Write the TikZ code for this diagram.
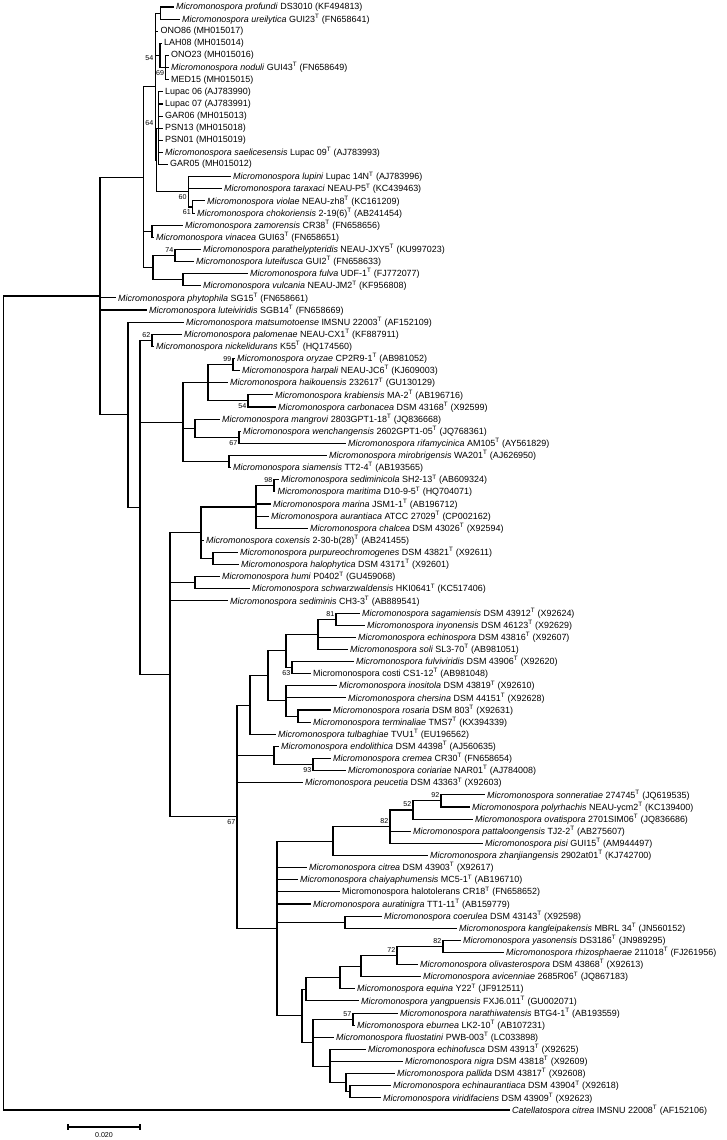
\documentclass[tikz,border=0pt]{standalone}
\usepackage{fontspec}
\setmainfont{Liberation Sans}
\usetikzlibrary{calc}
\newcommand\supT{\textsuperscript{T}}
\newcommand\mm[1]{\textit{Micromonospora #1}}
\newcommand\lf[4]{\coordinate (#1) at (#2,{7+(#3-1)*12.121});
  \node[lbl] (#1t) at ([xshift=3pt]#1) {#4};}
\newcommand\nd[4]{\coordinate (#1tmp) at ($(#3)!0.5!(#4)$);
  \coordinate (#1x) at (#2,0); \coordinate (#1) at (#1x |- #1tmp);}
\newcommand\br[2]{\draw[br] (#1 |- #2) -- (#2);}
\newcommand\vt[3]{\draw[br] (#1 |- #2) -- (#1 |- #3);}
\newcommand\bsu[2]{\node[bs,anchor=east] (#1bs) at ([xshift=-1.5pt,yshift=5.5pt]#1) {#2};}
\newcommand\bsd[2]{\node[bs,anchor=east] (#1bs) at ([xshift=-1.5pt,yshift=-5.5pt]#1) {#2};}
\begin{document}
\begin{tikzpicture}[x=1pt,y=-1pt,
  lbl/.style={anchor=west,inner sep=0pt,font=\fontsize{8.95}{10}\selectfont},
  bs/.style={inner sep=0pt,font=\fontsize{7.1}{8}\selectfont},
  br/.style={line width=1.1pt,line cap=rect}]
\useasboundingbox (0,0) rectangle (726,1140);
% leaves
\lf{l1}{173}{1}{\mm{profundi} DS3010 (KF494813)}
\lf{l2}{179}{2}{\mm{ureilytica} GUI23\supT{} (FN658641)}
\lf{l3}{157.5}{3}{ONO86 (MH015017)}
\lf{l4}{161}{4}{LAH08 (MH015014)}
\lf{l5}{168}{5}{ONO23 (MH015016)}
\lf{l6}{168}{6}{\mm{noduli} GUI43\supT{} (FN658649)}
\lf{l7}{168}{7}{MED15 (MH015015)}
\lf{l8}{162}{8}{Lupac 06 (AJ783990)}
\lf{l9}{162}{9}{Lupac 07 (AJ783991)}
\lf{l10}{162}{10}{GAR06 (MH015013)}
\lf{l11}{162}{11}{PSN13 (MH015018)}
\lf{l12}{162}{12}{PSN01 (MH015019)}
\lf{l13}{162}{13}{\mm{saelicesensis} Lupac 09\supT{} (AJ783993)}
\lf{l14}{167}{14}{GAR05 (MH015012)}
\lf{l15}{230}{15}{\mm{lupini} Lupac 14N\supT{} (AJ783996)}
\lf{l16}{221}{16}{\mm{taraxaci} NEAU-P5\supT{} (KC439463)}
\lf{l17}{204}{17}{\mm{violae} NEAU-zh8\supT{} (KC161209)}
\lf{l18}{194}{18}{\mm{chokoriensis} 2-19(6)\supT{} (AB241454)}
\lf{l19}{182}{19}{\mm{zamorensis} CR38\supT{} (FN658656)}
\lf{l20}{153}{20}{\mm{vinacea} GUI63\supT{} (FN658651)}
\lf{l21}{200}{21}{\mm{parathelypteridis} NEAU-JXY5\supT{} (KU997023)}
\lf{l22}{193}{22}{\mm{luteifusca} GUI2\supT{} (FN658633)}
\lf{l23}{247}{23}{\mm{fulva} UDF-1\supT{} (FJ772077)}
\lf{l24}{200}{24}{\mm{vulcania} NEAU-JM2\supT{} (KF956808)}
\lf{l25}{115}{25}{\mm{phytophila} SG15\supT{} (FN658661)}
\lf{l26}{146}{26}{\mm{luteiviridis} SGB14\supT{} (FN658669)}
\lf{l27}{183}{27}{\mm{matsumotoense} IMSNU 22003\supT{} (AF152109)}
\lf{l28}{181}{28}{\mm{palomenae} NEAU-CX1\supT{} (KF887911)}
\lf{l29}{153}{29}{\mm{nickelidurans} K55\supT{} (HQ174560)}
\lf{l30}{234}{30}{\mm{oryzae} CP2R9-1\supT{} (AB981052)}
\lf{l31}{239}{31}{\mm{harpali} NEAU-JC6\supT{} (KJ609003)}
\lf{l32}{227}{32}{\mm{haikouensis} 232617\supT{} (GU130129)}
\lf{l33}{272}{33}{\mm{krabiensis} MA-2\supT{} (AB196716)}
\lf{l34}{275}{34}{\mm{carbonacea} DSM 43168\supT{} (X92599)}
\lf{l35}{219}{35}{\mm{mangrovi} 2803GPT1-18\supT{} (JQ836668)}
\lf{l36}{240}{36}{\mm{wenchangensis} 2602GPT1-05\supT{} (JQ768361)}
\lf{l37}{345}{37}{\mm{rifamycinica} AM105\supT{} (AY561829)}
\lf{l38}{326}{38}{\mm{mirobrigensis} WA201\supT{} (AJ626950)}
\lf{l39}{230}{39}{\mm{siamensis} TT2-4\supT{} (AB193565)}
\lf{l40}{278}{40}{\mm{sediminicola} SH2-13\supT{} (AB609324)}
\lf{l41}{274.5}{41}{\mm{maritima} D10-9-5\supT{} (HQ704071)}
\lf{l42}{270}{42}{\mm{marina} JSM1-1\supT{} (AB196712)}
\lf{l43}{268}{43}{\mm{aurantiaca} ATCC 27029\supT{} (CP002162)}
\lf{l44}{307}{44}{\mm{chalcea} DSM 43026\supT{} (X92594)}
\lf{l45}{203}{45}{\mm{coxensis} 2-30-b(28)\supT{} (AB241455)}
\lf{l46}{237}{46}{\mm{purpureochromogenes} DSM 43821\supT{} (X92611)}
\lf{l47}{238}{47}{\mm{halophytica} DSM 43171\supT{} (X92601)}
\lf{l48}{219}{48}{\mm{humi} P0402\supT{} (GU459068)}
\lf{l49}{249}{49}{\mm{schwarzwaldensis} HKI0641\supT{} (KC517406)}
\lf{l50}{227}{50}{\mm{sediminis} CH3-3\supT{} (AB889541)}
\lf{l51}{359}{51}{\mm{sagamiensis} DSM 43912\supT{} (X92624)}
\lf{l52}{364}{52}{\mm{inyonensis} DSM 46123\supT{} (X92629)}
\lf{l53}{355}{53}{\mm{echinospora} DSM 43816\supT{} (X92607)}
\lf{l54}{347}{54}{\mm{soli} SL3-70\supT{} (AB981051)}
\lf{l55}{353}{55}{\mm{fulviviridis} DSM 43906\supT{} (X92620)}
\lf{l56}{310}{56}{Micromonospora costi CS1-12\supT{} (AB981048)}
\lf{l57}{336}{57}{\mm{inositola} DSM 43819\supT{} (X92610)}
\lf{l58}{345}{58}{\mm{chersina} DSM 44151\supT{} (X92628)}
\lf{l59}{330}{59}{\mm{rosaria} DSM 803\supT{} (X92631)}
\lf{l60}{310}{60}{\mm{terminaliae} TMS7\supT{} (KX394339)}
\lf{l61}{275}{61}{\mm{tulbaghiae} TVU1\supT{} (EU196562)}
\lf{l62}{278}{62}{\mm{endolithica} DSM 44398\supT{} (AJ560635)}
\lf{l63}{330}{63}{\mm{cremea} CR30\supT{} (FN658654)}
\lf{l64}{345}{64}{\mm{coriariae} NAR01\supT{} (AJ784008)}
\lf{l65}{302}{65}{\mm{peucetia} DSM 43363\supT{} (X92603)}
\lf{l66}{484}{66}{\mm{sonneratiae} 274745\supT{} (JQ619535)}
\lf{l67}{469}{67}{\mm{polyrhachis} NEAU-ycm2\supT{} (KC139400)}
\lf{l68}{472}{68}{\mm{ovatispora} 2701SIM06\supT{} (JQ836686)}
\lf{l69}{410}{69}{\mm{pattaloongensis} TJ2-2\supT{} (AB275607)}
\lf{l70}{482}{70}{\mm{pisi} GUI15\supT{} (AM944497)}
\lf{l71}{427}{71}{\mm{zhanjiangensis} 2902at01\supT{} (KJ742700)}
\lf{l72}{306}{72}{\mm{citrea} DSM 43903\supT{} (X92617)}
\lf{l73}{297}{73}{\mm{chaiyaphumensis} MC5-1\supT{} (AB196710)}
\lf{l74}{339}{74}{Micromonospora halotolerans CR18\supT{} (FN658652)}
\lf{l75}{310}{75}{\mm{auratinigra} TT1-11\supT{} (AB159779)}
\lf{l76}{381}{76}{\mm{coerulea} DSM 43143\supT{} (X92598)}
\lf{l77}{456}{77}{\mm{kangleipakensis} MBRL 34\supT{} (JN560152)}
\lf{l78}{460}{78}{\mm{yasonensis} DS3186\supT{} (JN989295)}
\lf{l79}{503}{79}{\mm{rhizosphaerae} 211018\supT{} (FJ261956)}
\lf{l80}{417}{80}{\mm{olivasterospora} DSM 43868\supT{} (X92613)}
\lf{l81}{420}{81}{\mm{avicenniae} 2685R06\supT{} (JQ867183)}
\lf{l82}{354}{82}{\mm{equina} Y22\supT{} (JF912511)}
\lf{l83}{358}{83}{\mm{yangpuensis} FXJ6.011\supT{} (GU002071)}
\lf{l84}{397}{84}{\mm{narathiwatensis} BTG4-1\supT{} (AB193559)}
\lf{l85}{354}{85}{\mm{eburnea} LK2-10\supT{} (AB107231)}
\lf{l86}{333}{86}{\mm{fluostatini} PWB-003\supT{} (LC033898)}
\lf{l87}{365}{87}{\mm{echinofusca} DSM 43913\supT{} (X92625)}
\lf{l88}{402}{88}{\mm{nigra} DSM 43818\supT{} (X92609)}
\lf{l89}{394}{89}{\mm{pallida} DSM 43817\supT{} (X92608)}
\lf{l90}{390}{90}{\mm{echinaurantiaca} DSM 43904\supT{} (X92618)}
\lf{l91}{380}{91}{\mm{viridifaciens} DSM 43909\supT{} (X92623)}
\lf{l92}{509}{92}{\textit{Catellatospora citrea} IMSNU 22008\supT{} (AF152106)}
% internal nodes
\nd{P1}{160.7}{l1}{l2}
\nd{n69}{165.7}{l5}{l7}
\nd{n162}{160}{l4}{n69}
\nd{n64}{158.5}{l8}{l14}
\nd{n192}{192.5}{l17}{l18}
\nd{n188}{188.3}{l15}{n192}
\nd{C}{156.5}{n64}{n188}
\nd{B}{155.7}{P1}{C}
\nd{n152}{152}{l19}{l20}
\nd{n74}{175}{l21}{l22}
\nd{nfv}{183}{l23}{l24}
\nd{n153}{153}{n74}{nfv}
\nd{A}{143.5}{B}{n153}
\nd{n62}{152}{l28}{l29}
\nd{n99}{233}{l30}{l31}
\nd{nkc}{248}{l33}{l34}
\nd{n208}{208}{n99}{nkc}
\nd{nwr}{239}{l36}{l37}
\nd{n195}{195}{l35}{nwr}
\nd{n229}{229}{l38}{l39}
\nd{N183}{183}{n208}{n229}
\nd{n98}{274}{l40}{l41}
\nd{n256}{256}{n98}{l44}
\nd{n213}{213}{l46}{l47}
\nd{N201}{201}{n256}{n213}
\nd{nhs}{195}{l48}{l49}
\nd{n81}{336}{l51}{l52}
\nd{n318}{318}{n81}{l54}
\nd{n63}{292}{l55}{l56}
\nd{n286}{286}{n318}{n63}
\nd{n298}{298}{l59}{l60}
\nd{n286b}{286}{l57}{n298}
\nd{n268}{268}{n286}{n286b}
\nd{n250}{250}{n268}{l61}
\nd{n93}{313}{l63}{l64}
\nd{n274}{274}{l62}{n93}
\nd{n92}{441}{l66}{l67}
\nd{n52}{413}{n92}{l68}
\nd{n82}{390}{n52}{l70}
\nd{n333}{333}{n82}{l71}
\nd{n345}{345}{l76}{l77}
\nd{n82b}{443}{l78}{l79}
\nd{n72}{397}{n82b}{l80}
\nd{n361}{361}{n72}{l81}
\nd{n340}{340}{n361}{l82}
\nd{n306}{306}{n340}{l83}
\nd{n57}{353}{l84}{l85}
\nd{n350}{350}{l90}{l91}
\nd{n346}{346}{l89}{n350}
\nd{n330}{330}{l87}{n346}
\nd{n313}{313}{n57}{n330}
\nd{n302}{302}{n306}{n313}
\nd{n277}{277}{n333}{n302}
\nd{N237}{237}{n250}{n277}
\nd{N170}{170}{N201}{N237}
\nd{N140}{140}{n62}{N170}
\nd{N128}{128}{l27}{N140}
\nd{N100}{100}{A}{N128}
\nd{R}{3.3}{N100}{l92}
% branches
\vt{P1}{l1}{l2}\br{P1}{l1}\br{P1}{l2}
\vt{n69}{l5}{l7}\br{n69}{l5}\br{n69}{l6}\br{n69}{l7}
\vt{n162}{l4}{n69}\br{n162}{l4}\br{n162}{n69}
\vt{n64}{l8}{l14}\br{n64}{l8}\br{n64}{l9}\br{n64}{l10}\br{n64}{l11}\br{n64}{l12}\br{n64}{l13}\br{n64}{l14}
\vt{n192}{l17}{l18}\br{n192}{l17}\br{n192}{l18}
\vt{n188}{l15}{n192}\br{n188}{l15}\br{n188}{l16}\br{n188}{n192}
\vt{C}{n64}{n188}\br{C}{n64}\br{C}{n188}
\vt{B}{P1}{C}\br{B}{P1}\br{B}{l3}\br{B}{n162}\br{B}{C}
\vt{n152}{l19}{l20}\br{n152}{l19}\br{n152}{l20}
\vt{n74}{l21}{l22}\br{n74}{l21}\br{n74}{l22}
\vt{nfv}{l23}{l24}\br{nfv}{l23}\br{nfv}{l24}
\vt{n153}{n74}{nfv}\br{n153}{n74}\br{n153}{nfv}
\vt{A}{B}{n153}\br{A}{B}\br{A}{n152}\br{A}{n153}
\vt{n62}{l28}{l29}\br{n62}{l28}\br{n62}{l29}
\vt{n99}{l30}{l31}\br{n99}{l30}\br{n99}{l31}
\vt{nkc}{l33}{l34}\br{nkc}{l33}\br{nkc}{l34}
\vt{n208}{n99}{nkc}\br{n208}{n99}\br{n208}{l32}\br{n208}{nkc}
\vt{nwr}{l36}{l37}\br{nwr}{l36}\br{nwr}{l37}
\vt{n195}{l35}{nwr}\br{n195}{l35}\br{n195}{nwr}
\vt{n229}{l38}{l39}\br{n229}{l38}\br{n229}{l39}
\vt{N183}{n208}{n229}\br{N183}{n208}\br{N183}{n195}\br{N183}{n229}
\vt{n98}{l40}{l41}\br{n98}{l40}\br{n98}{l41}
\vt{n256}{n98}{l44}\br{n256}{n98}\br{n256}{l42}\br{n256}{l43}\br{n256}{l44}
\vt{n213}{l46}{l47}\br{n213}{l46}\br{n213}{l47}
\vt{N201}{n256}{n213}\br{N201}{n256}\br{N201}{l45}\br{N201}{n213}
\vt{nhs}{l48}{l49}\br{nhs}{l48}\br{nhs}{l49}
\vt{n81}{l51}{l52}\br{n81}{l51}\br{n81}{l52}
\vt{n318}{n81}{l54}\br{n318}{n81}\br{n318}{l53}\br{n318}{l54}
\vt{n63}{l55}{l56}\br{n63}{l55}\br{n63}{l56}
\vt{n286}{n318}{n63}\br{n286}{n318}\br{n286}{n63}
\vt{n298}{l59}{l60}\br{n298}{l59}\br{n298}{l60}
\vt{n286b}{l57}{n298}\br{n286b}{l57}\br{n286b}{l58}\br{n286b}{n298}
\vt{n268}{n286}{n286b}\br{n268}{n286}\br{n268}{n286b}
\vt{n250}{n268}{l61}\br{n250}{n268}\br{n250}{l61}
\vt{n93}{l63}{l64}\br{n93}{l63}\br{n93}{l64}
\vt{n274}{l62}{n93}\br{n274}{l62}\br{n274}{n93}
\vt{n92}{l66}{l67}\br{n92}{l66}\br{n92}{l67}
\vt{n52}{n92}{l68}\br{n52}{n92}\br{n52}{l68}
\vt{n82}{n52}{l70}\br{n82}{n52}\br{n82}{l69}\br{n82}{l70}
\vt{n333}{n82}{l71}\br{n333}{n82}\br{n333}{l71}
\vt{n345}{l76}{l77}\br{n345}{l76}\br{n345}{l77}
\vt{n82b}{l78}{l79}\br{n82b}{l78}\br{n82b}{l79}
\vt{n72}{n82b}{l80}\br{n72}{n82b}\br{n72}{l80}
\vt{n361}{n72}{l81}\br{n361}{n72}\br{n361}{l81}
\vt{n340}{n361}{l82}\br{n340}{n361}\br{n340}{l82}
\vt{n306}{n340}{l83}\br{n306}{n340}\br{n306}{l83}
\vt{n57}{l84}{l85}\br{n57}{l84}\br{n57}{l85}
\vt{n350}{l90}{l91}\br{n350}{l90}\br{n350}{l91}
\vt{n346}{l89}{n350}\br{n346}{l89}\br{n346}{n350}
\vt{n330}{l87}{n346}\br{n330}{l87}\br{n330}{l88}\br{n330}{n346}
\vt{n313}{n57}{n330}\br{n313}{n57}\br{n313}{l86}\br{n313}{n330}
\vt{n302}{n306}{n313}\br{n302}{n306}\br{n302}{n313}
\vt{n277}{n333}{n302}\br{n277}{n333}\br{n277}{l72}\br{n277}{l73}\br{n277}{l74}\br{n277}{l75}\br{n277}{n345}\br{n277}{n302}
\vt{N237}{n250}{n277}\br{N237}{n250}\br{N237}{n274}\br{N237}{l65}\br{N237}{n277}
\vt{N170}{N201}{N237}\br{N170}{N201}\br{N170}{nhs}\br{N170}{l50}\br{N170}{N237}
\vt{N140}{n62}{N170}\br{N140}{n62}\br{N140}{N183}\br{N140}{N170}
\vt{N128}{l27}{N140}\br{N128}{l27}\br{N128}{N140}
\vt{N100}{A}{N128}\br{N100}{A}\br{N100}{l25}\br{N100}{l26}\br{N100}{N128}
\vt{R}{N100}{l92}\br{R}{N100}\br{R}{l92}
% bootstrap values
\node[bs,anchor=east] (b54top) at ([xshift=-2.2pt,yshift=-2.5pt]B |- n162) {54};
\bsd{n69}{69}
\node[bs,anchor=east] (b64top) at ([xshift=-5pt,yshift=5pt]n64) {64};
\bsd{n188}{60}
\bsd{n192}{61}
\bsu{n74}{74}
\bsu{n62}{62}
\bsu{n99}{99}
\bsd{nkc}{54}
\bsd{nwr}{67}
\bsu{n98}{98}
\bsu{n81}{81}
\bsd{n63}{63}
\bsd{n93}{93}
\bsd{N237}{67}
\bsu{n92}{92}
\bsu{n52}{52}
\bsu{n82}{82}
\bsu{n82b}{82}
\bsu{n72}{72}
\bsu{n57}{57}
% scale bar
\coordinate (sb1) at (68,1127);
\coordinate (sb2) at (140,1127);
\draw[line width=1.1pt] (sb1) -- (sb2);
\draw[line width=1.1pt] ([yshift=3pt]sb1) -- ([yshift=-3pt]sb1);
\draw[line width=1.1pt] ([yshift=3pt]sb2) -- ([yshift=-3pt]sb2);
\node[bs,anchor=north] (sbl) at ($(sb1)!0.5!(sb2)+(0,5)$) {0.020};
\end{tikzpicture}
\end{document}
